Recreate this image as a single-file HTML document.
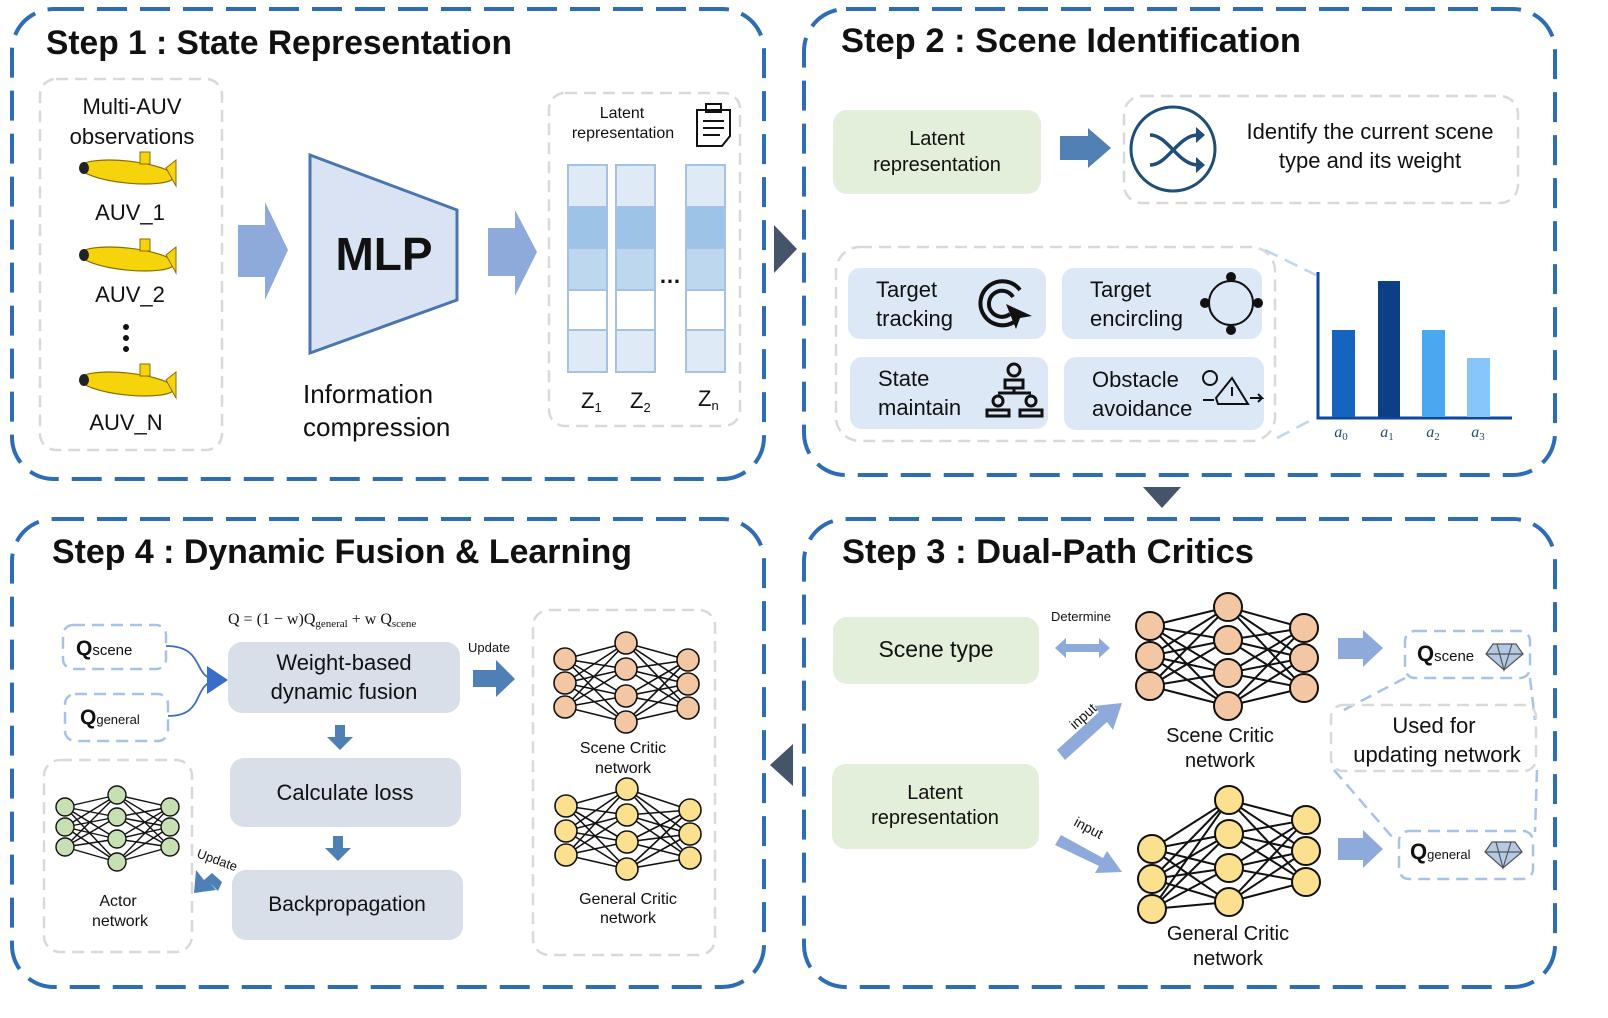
<!DOCTYPE html>
<html><head><meta charset="utf-8"><style>
html,body{margin:0;padding:0;background:#fff;}
svg{display:block;font-family:"Liberation Sans","DejaVu Sans",sans-serif;}
</style></head><body>
<svg id="s" width="1608" height="1018" viewBox="0 0 1608 1018" xmlns="http://www.w3.org/2000/svg">
<defs>
<marker id="ah" markerWidth="8" markerHeight="8" refX="6" refY="4" orient="auto"><path d="M0,0 L8,4 L0,8 z" fill="#3b6cc7"/></marker>
</defs>
<!-- panels -->
<g fill="none" stroke="#2e6db4" stroke-width="4" stroke-dasharray="30 13">
<rect x="12" y="9" width="752" height="470" rx="42"/>
<rect x="804" y="9" width="751" height="466" rx="42"/>
<rect x="12" y="519" width="752" height="468" rx="42"/>
<rect x="804" y="519" width="751" height="468" rx="42"/>
</g>
<!-- triangles between panels -->
<path d="M774,225 L797,249 L774,273 z" fill="#44546a"/>
<path d="M1143,487 L1181,487 L1162,508 z" fill="#44546a"/>
<path d="M793,744 L770,765 L793,786 z" fill="#44546a"/>

<!-- titles -->
<g font-weight="bold" font-size="34" fill="#111">
<text x="46" y="54" textLength="466" lengthAdjust="spacingAndGlyphs">Step 1 : State Representation</text>
<text x="841" y="52" textLength="460" lengthAdjust="spacingAndGlyphs">Step 2 : Scene Identification</text>
<text x="52" y="563" textLength="580" lengthAdjust="spacingAndGlyphs">Step 4 : Dynamic Fusion &amp; Learning</text>
<text x="842" y="563" textLength="412" lengthAdjust="spacingAndGlyphs">Step 3 : Dual-Path Critics</text>
</g>

<!-- STEP 1 -->
<rect x="40" y="79" width="182" height="371" rx="16" fill="none" stroke="#d9d9d9" stroke-width="2.5" stroke-dasharray="12 7"/>
<g font-size="22" fill="#111" text-anchor="middle">
<text x="132" y="114">Multi-AUV</text>
<text x="132" y="144">observations</text>
<text x="130" y="220">AUV_1</text>
<text x="130" y="302">AUV_2</text>
<text x="126" y="430">AUV_N</text>
</g>
<g id="sub">
<ellipse cx="127" cy="172" rx="47" ry="11" fill="#f5d40c" stroke="#8a6d00" stroke-width="1.2" transform="rotate(6 127 172)"/>
<rect x="140" y="152" width="10" height="12" fill="#f5d40c" stroke="#8a6d00" stroke-width="1"/>
<path d="M166,168 L176,160 L176,186 z" fill="#f5d40c" stroke="#8a6d00" stroke-width="1"/>
<ellipse cx="84" cy="168" rx="5" ry="6" fill="#222"/>
</g>
<use href="#sub" transform="translate(0,87)"/>
<use href="#sub" transform="translate(0,212)"/>
<circle cx="126" cy="327" r="3" fill="#111"/><circle cx="126" cy="338" r="3" fill="#111"/><circle cx="126" cy="349" r="3" fill="#111"/>
<path d="M238,225 L265,225 L265,202 L288,250 L265,300 L265,277 L238,277 z" fill="#8eaadb"/>
<path d="M310,155 L457,210 L457,300 L310,353 z" fill="#dae3f3" stroke="#4a76b0" stroke-width="3"/>
<text x="384" y="270" font-size="46" font-weight="bold" text-anchor="middle" fill="#111">MLP</text>
<text x="303" y="403" font-size="26" fill="#111">Information</text>
<text x="303" y="436" font-size="26" fill="#111">compression</text>
<path d="M488,228 L515,228 L515,210 L537,252 L515,296 L515,276 L488,276 z" fill="#8eaadb"/>
<rect x="549" y="93" width="191" height="333" rx="16" fill="none" stroke="#d9d9d9" stroke-width="2.5" stroke-dasharray="12 7"/>
<text x="622" y="118" font-size="16" text-anchor="middle" fill="#111">Latent</text>
<text x="623" y="138" font-size="16" text-anchor="middle" fill="#111">representation</text>
<g fill="none" stroke="#111" stroke-width="2">
<path d="M697,110 L730,110 L730,136 L722,146 L697,146 z"/><rect x="706" y="104" width="15" height="8"/>
<path d="M703,121 L724,121 M703,128 L724,128 M703,135 L720,135"/>
</g>
<g id="col" stroke="#a6c1e6" stroke-width="2">
<rect x="568" y="165" width="39" height="42" fill="#deebf7"/>
<rect x="568" y="207" width="39" height="41" fill="#9dc3e6"/>
<rect x="568" y="248" width="39" height="42" fill="#bdd7ee"/>
<rect x="568" y="290" width="39" height="40" fill="#fff"/>
<rect x="568" y="330" width="39" height="42" fill="#deebf7"/>
</g>
<use href="#col" transform="translate(48,0)"/>
<use href="#col" transform="translate(118,0)"/>
<text x="670" y="283" font-size="22" font-weight="bold" text-anchor="middle" fill="#111">…</text>
<g font-size="22" fill="#111">
<text x="581" y="408">Z<tspan font-size="13" dy="4">1</tspan></text>
<text x="630" y="408">Z<tspan font-size="13" dy="4">2</tspan></text>
<text x="698" y="406">Z<tspan font-size="13" dy="4">n</tspan></text>
</g>

<!-- STEP 2 -->
<rect x="833" y="110" width="208" height="84" rx="14" fill="#e2efda"/>
<text x="937" y="145" font-size="20" text-anchor="middle" fill="#111">Latent</text>
<text x="937" y="171" font-size="20" text-anchor="middle" fill="#111">representation</text>
<path d="M1060,136 L1088,136 L1088,128 L1111,148 L1088,168 L1088,160 L1060,160 z" fill="#5180b4"/>
<rect x="1124" y="96" width="394" height="107" rx="18" fill="none" stroke="#d9d9d9" stroke-width="2.5" stroke-dasharray="12 7"/>
<circle cx="1173" cy="149" r="42" fill="none" stroke="#1f4e79" stroke-width="3"/>
<g fill="none" stroke="#1f4e79" stroke-width="3.5">
<path d="M1150,135 C1168,135 1178,165 1198,165"/><path d="M1150,165 C1168,165 1178,135 1198,135"/>
</g>
<path d="M1196,127 L1205,135 L1196,143 z M1196,157 L1205,165 L1196,173 z" fill="#1f4e79"/>
<text x="1370" y="139" font-size="22" text-anchor="middle" fill="#111">Identify the current scene</text>
<text x="1370" y="168" font-size="22" text-anchor="middle" fill="#111">type and its weight</text>
<rect x="836" y="247" width="439" height="194" rx="24" fill="none" stroke="#d9d9d9" stroke-width="2.5" stroke-dasharray="12 7"/>
<g fill="#dce8f6">
<rect x="848" y="268" width="198" height="71" rx="12"/>
<rect x="1062" y="268" width="200" height="71" rx="12"/>
<rect x="850" y="357" width="198" height="72" rx="12"/>
<rect x="1064" y="357" width="200" height="73" rx="12"/>
</g>
<g font-size="22" fill="#111">
<text x="876" y="297">Target</text><text x="876" y="326">tracking</text>
<text x="1090" y="297">Target</text><text x="1090" y="326">encircling</text>
<text x="878" y="386">State</text><text x="878" y="415">maintain</text>
<text x="1092" y="387">Obstacle</text><text x="1092" y="416">avoidance</text>
</g>
<g fill="none" stroke="#111" stroke-width="4">
<path d="M1020,290 A22,22 0 1 0 1014,322"/><path d="M1013,297 A13,13 0 1 0 1010,314"/>
</g>
<path d="M1006,304 L1032,316 L1020,318 L1016,329 z" fill="#111"/>
<g fill="none" stroke="#111" stroke-width="2"><circle cx="1231" cy="303" r="22"/></g>
<g fill="#111"><circle cx="1231" cy="277" r="5"/><circle cx="1231" cy="330" r="5"/><circle cx="1205" cy="303" r="5"/><circle cx="1258" cy="303" r="5"/></g>
<g fill="none" stroke="#111" stroke-width="3">
<circle cx="1014" cy="370" r="6"/><path d="M1005,388 L1005,380 L1023,380 L1023,388 z"/>
<path d="M1014,388 L1014,393 M998,393 L1031,393"/>
<circle cx="998" cy="401" r="5"/><circle cx="1031" cy="401" r="5"/>
<path d="M987,416 L987,410 L1009,410 L1009,416 z M1020,416 L1020,410 L1042,410 L1042,416 z"/>
</g>
<g fill="none" stroke="#111" stroke-width="2">
<circle cx="1210" cy="378" r="7"/><path d="M1216,398 L1232,378 L1248,404 L1218,404 z"/><path d="M1232,387 L1232,396"/>
<path d="M1203,400 L1214,400 M1250,398 L1262,398 L1258,394 M1262,398 L1258,402"/>
</g>
<g stroke="#bdd7ee" stroke-width="2.5" stroke-dasharray="14 8"><path d="M1265,250 L1316,275"/><path d="M1277,438 L1315,418"/></g>
<path d="M1318,272 L1318,418 L1512,418" fill="none" stroke="#0d47a1" stroke-width="3"/>
<rect x="1332" y="330" width="23" height="87" fill="#1565c0"/>
<rect x="1378" y="281" width="22" height="136" fill="#0d3f86"/>
<rect x="1422" y="330" width="23" height="87" fill="#4aa8f0"/>
<rect x="1467" y="358" width="23" height="59" fill="#86c6fb"/>
<g font-family="Liberation Serif,serif" font-style="italic" font-size="16" fill="#1f4e79" text-anchor="middle">
<text x="1341" y="437">a<tspan font-size="11" dy="3" font-style="normal">0</tspan></text>
<text x="1387" y="437">a<tspan font-size="11" dy="3" font-style="normal">1</tspan></text>
<text x="1433" y="437">a<tspan font-size="11" dy="3" font-style="normal">2</tspan></text>
<text x="1478" y="437">a<tspan font-size="11" dy="3" font-style="normal">3</tspan></text>
</g>

<!-- STEP 3 -->
<rect x="833" y="617" width="206" height="67" rx="14" fill="#e2efda"/>
<text x="936" y="657" font-size="23" text-anchor="middle" fill="#111">Scene type</text>
<rect x="832" y="764" width="207" height="85" rx="14" fill="#e2efda"/>
<text x="935" y="799" font-size="20" text-anchor="middle" fill="#111">Latent</text>
<text x="935" y="824" font-size="20" text-anchor="middle" fill="#111">representation</text>
<text x="1081" y="621" font-size="13" text-anchor="middle" fill="#111">Determine</text>
<path d="M1055,648 L1066,638 L1066,644 L1099,644 L1099,638 L1110,648 L1099,658 L1099,652 L1066,652 L1066,658 z" fill="#8eaadb"/>
<path d="M1057,750 L1099,712 L1094,706 L1122,703 L1113,730 L1107,722 L1065,760 z" fill="#8eaadb"/>
<path d="M1055,845 L1061,835 L1103,858 L1107,851 L1122,872 L1095,873 L1099,866 z" fill="#8eaadb"/>
<text x="1075" y="730" font-size="14" fill="#111" transform="rotate(-42 1075 730)">input</text>
<text x="1073" y="825" font-size="14" fill="#111" transform="rotate(28 1073 825)">input</text>
<path d="M1338,638 L1363,638 L1363,630 L1383,648 L1363,667 L1363,659 L1338,659 z" fill="#8eaadb"/>
<path d="M1338,838 L1363,838 L1363,830 L1383,849 L1363,868 L1363,860 L1338,860 z" fill="#8eaadb"/>
<g fill="none" stroke="#a9c2e8" stroke-width="2.5" stroke-dasharray="12 7">
<rect x="1405" y="631" width="125" height="47" rx="10"/>
<rect x="1399" y="831" width="134" height="48" rx="10"/>
<path d="M1405,678 L1340,712"/><path d="M1530,678 L1535,720"/><path d="M1334,770 L1393,838"/><path d="M1537,770 L1535,832"/>
</g>
<rect x="1331" y="705" width="205" height="66" rx="12" fill="none" stroke="#d9d9d9" stroke-width="2.5" stroke-dasharray="12 7"/>
<text x="1434" y="733" font-size="22" text-anchor="middle" fill="#111">Used for</text>
<text x="1437" y="762" font-size="22" text-anchor="middle" fill="#111">updating network</text>
<text x="1417" y="661" fill="#111"><tspan font-size="22" font-weight="bold">Q</tspan><tspan font-size="15">scene</tspan></text>
<text x="1410" y="859" fill="#111"><tspan font-size="22" font-weight="bold">Q</tspan><tspan font-size="13">general</tspan></text>
<g id="dia" fill="#b4c9e4" stroke="#555" stroke-width="1.2">
<path d="M1486,654 L1493,644 L1516,644 L1523,654 L1504,670 z"/>
<path d="M1486,654 L1523,654 M1497,644 L1504,670 L1512,644" fill="none"/>
</g>
<use href="#dia" transform="translate(-1,198)"/>
<text x="1220" y="742" font-size="20" text-anchor="middle" fill="#111">Scene Critic</text>
<text x="1220" y="767" font-size="20" text-anchor="middle" fill="#111">network</text>
<text x="1228" y="940" font-size="20" text-anchor="middle" fill="#111">General Critic</text>
<text x="1228" y="965" font-size="20" text-anchor="middle" fill="#111">network</text>
<g id="nets"></g>

<!-- STEP 4 -->
<text x="228" y="624" font-family="Liberation Serif,serif" font-size="16" fill="#111">Q = (1 − w)Q<tspan font-size="11" dy="3">general</tspan><tspan dy="-3"> + w Q</tspan><tspan font-size="11" dy="3">scene</tspan></text>
<g fill="none" stroke="#a9c2e8" stroke-width="2.5" stroke-dasharray="12 7">
<rect x="63" y="625" width="103" height="44" rx="10"/>
<rect x="65" y="694" width="103" height="47" rx="10"/>
</g>
<text x="76" y="655" fill="#111"><tspan font-size="21" font-weight="bold">Q</tspan><tspan font-size="15">scene</tspan></text>
<text x="80" y="724" fill="#111"><tspan font-size="21" font-weight="bold">Q</tspan><tspan font-size="13">general</tspan></text>
<g fill="none" stroke="#3b6cc7" stroke-width="1.8">
<path d="M166,646 C205,646 192,676 215,680"/><path d="M168,716 C205,716 192,686 215,680"/>
</g>
<path d="M207,666 L228,680 L207,694 z" fill="#3b6cc7"/>
<rect x="228" y="642" width="232" height="71" rx="14" fill="#d8dfe9"/>
<text x="344" y="670" font-size="22" text-anchor="middle" fill="#111">Weight-based</text>
<text x="344" y="699" font-size="22" text-anchor="middle" fill="#111">dynamic fusion</text>
<rect x="230" y="758" width="231" height="69" rx="14" fill="#d8dfe9"/>
<text x="345" y="800" font-size="22" text-anchor="middle" fill="#111">Calculate loss</text>
<rect x="232" y="870" width="231" height="70" rx="14" fill="#d8dfe9"/>
<text x="347" y="911" font-size="21" text-anchor="middle" fill="#111">Backpropagation</text>
<path d="M335,725 L345,725 L345,737 L353,737 L340,750 L327,737 L335,737 z" fill="#4e7fb5"/>
<path d="M333,836 L343,836 L343,848 L351,848 L338,861 L325,848 L333,848 z" fill="#4e7fb5"/>
<text x="489" y="652" font-size="13" text-anchor="middle" fill="#111">Update</text>
<path d="M473,670 L496,670 L496,660 L515,679 L496,697 L496,687 L473,687 z" fill="#4e7fb5"/>
<text x="196" y="857" font-size="13" fill="#111" transform="rotate(20 196 857)">Update</text>
<path d="M222,882 L212,873 L204,880 L196,870 L194,893 L216,890 L210,883 L218,891 z" fill="#4e7fb5"/>
<rect x="533" y="610" width="182" height="345" rx="16" fill="none" stroke="#d9d9d9" stroke-width="2.5" stroke-dasharray="12 7"/>
<rect x="44" y="760" width="148" height="192" rx="16" fill="none" stroke="#d9d9d9" stroke-width="2.5" stroke-dasharray="12 7"/>
<text x="623" y="753" font-size="16" text-anchor="middle" fill="#111">Scene Critic</text>
<text x="623" y="773" font-size="16" text-anchor="middle" fill="#111">network</text>
<text x="628" y="904" font-size="16" text-anchor="middle" fill="#111">General Critic</text>
<text x="628" y="923" font-size="16" text-anchor="middle" fill="#111">network</text>
<text x="118" y="906" font-size="16" text-anchor="middle" fill="#111">Actor</text>
<text x="120" y="926" font-size="16" text-anchor="middle" fill="#111">network</text>
</svg>
<script>
(function(){
var g=document.getElementById('nets');var NS='http://www.w3.org/2000/svg';
function net(xs,ys,r,fill,sw){
 var h='';
 for(var l=0;l<2;l++)for(var i=0;i<ys[l].length;i++)for(var j=0;j<ys[l+1].length;j++)
  h+='<line x1="'+xs[l]+'" y1="'+ys[l][i]+'" x2="'+xs[l+1]+'" y2="'+ys[l+1][j]+'" stroke="#111" stroke-width="'+sw+'"/>';
 for(var l=0;l<3;l++)for(var i=0;i<ys[l].length;i++)
  h+='<circle cx="'+xs[l]+'" cy="'+ys[l][i]+'" r="'+r+'" fill="'+fill+'" stroke="#111" stroke-width="'+sw+'"/>';
 return h;}
var h='';
h+=net([1150,1228,1304],[[626,656,686],[607,640,673,706],[628,658,688]],14,'#f4c7a4',2);
h+=net([1152,1229,1306],[[849,879,909],[800,834,868,902],[820,851,882]],14,'#fbe08f',2);
h+=net([565,626,688],[[659,683,707],[643,669,696,722],[660,684,708]],11,'#f4c7a4',1.6);
h+=net([566,627,690],[[806,831,855],[789,815,842,869],[810,834,858]],11,'#fbe08f',1.6);
h+=net([65,117,170],[[807,827,847],[795,817,839,862],[807,827,847]],9,'#c6e0b4',1.4);
g.innerHTML=h;
})();
</script>
</body></html>
